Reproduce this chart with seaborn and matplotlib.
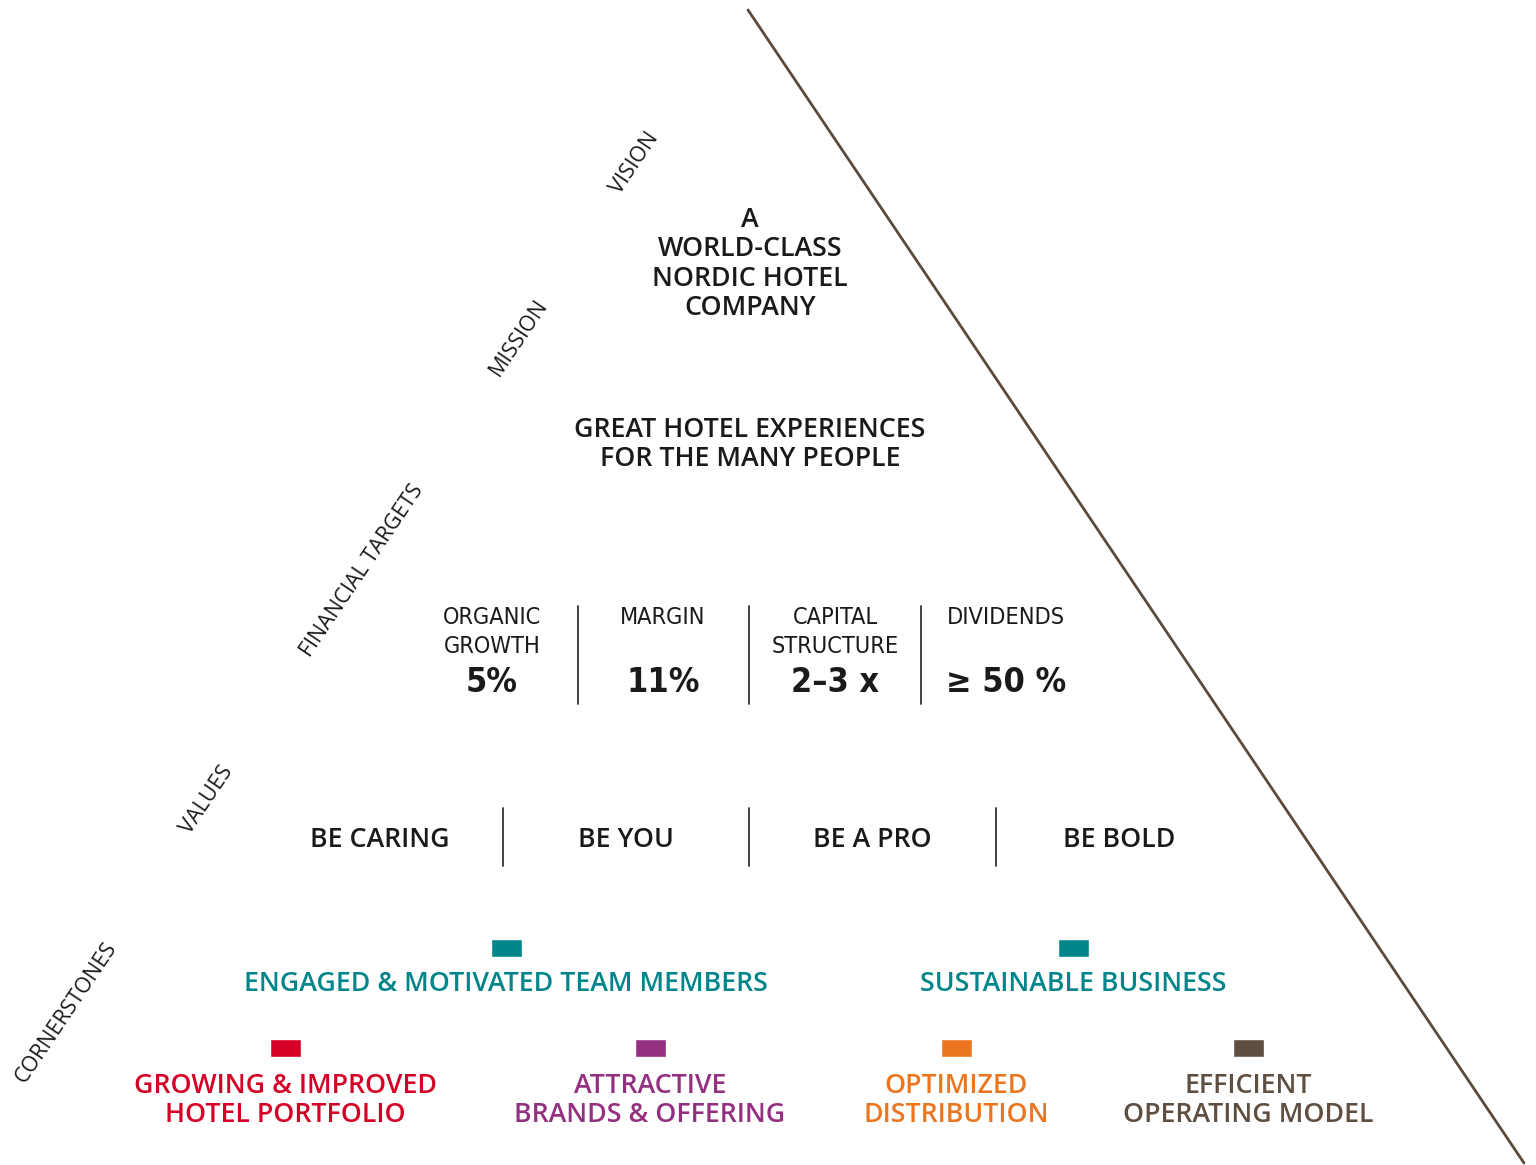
import matplotlib
matplotlib.use("Agg")
import matplotlib.pyplot as plt
import seaborn as sns
import pandas as pd

# ---- data ----
section_labels = ["VISION", "MISSION", "FINANCIAL TARGETS", "VALUES", "CORNERSTONES"]
vision_lines = ["A", "WORLD-CLASS", "NORDIC HOTEL", "COMPANY"]
mission_lines = ["GREAT HOTEL EXPERIENCES", "FOR THE MANY PEOPLE"]
fin_names = ["ORGANIC\nGROWTH", "MARGIN", "CAPITAL\nSTRUCTURE", "DIVIDENDS"]
fin_values = ["5%", "11%", "2\u20133 x", "\u2265 50 %"]
values_list = ["BE CARING", "BE YOU", "BE A PRO", "BE BOLD"]
corner_top = ["ENGAGED & MOTIVATED TEAM MEMBERS", "SUSTAINABLE BUSINESS"]
corner_top_colors = ["#00858a", "#00858a"]
corner_bottom = ["GROWING & IMPROVED\nHOTEL PORTFOLIO", "ATTRACTIVE\nBRANDS & OFFERING",
                 "OPTIMIZED\nDISTRIBUTION", "EFFICIENT\nOPERATING MODEL"]
corner_bottom_colors = ["#d50025", "#93307f", "#ec7520", "#5e4f41"]

sns.set_theme(style="white")
plt.rcParams["font.family"] = ["Open Sans", "DejaVu Sans"]

W, H = 1536, 1165
fig = plt.figure(figsize=(W / 100, H / 100), dpi=100)
ax = fig.add_axes([0, 0, 1, 1])

dark = "#1a1a1a"
FAM = ["Open Sans", "DejaVu Sans"]
FS = 19.3
main_font = dict(family=FAM, fontweight=600, color=dark)
narrow = dict(family=["DejaVu Sans"], fontstretch="condensed", color=dark)

# diagonal
line_df = pd.DataFrame({"x": [748, 1524], "y": [10, 1163]})
sns.lineplot(data=line_df, x="x", y="y", ax=ax, color="#5a4a3c", lw=2)
ax.set_xlim(0, W)
ax.set_ylim(H, 0)
ax.axis("off")

# rotated section labels
label_pos = [(635, 163), (519, 338), (362, 571), (207, 800), (66, 1012)]
for lab, (x, y) in zip(section_labels, label_pos):
    ax.text(x, y, lab, rotation=56, ha="center", va="center", fontsize=15.5,
            family=FAM, fontweight=500, color=dark, rotation_mode="anchor")

# vision
for i, ln in enumerate(vision_lines):
    ax.text(750, 220 + i * 29.4, ln, ha="center", va="center", fontsize=FS, **main_font)

# mission
for i, ln in enumerate(mission_lines):
    ax.text(750, 430 + i * 29, ln, ha="center", va="center", fontsize=FS, **main_font)

# financial targets
fin_x = [492, 663, 835, 1006]
for x, name, val in zip(fin_x, fin_names, fin_values):
    ax.text(x, 606, name, ha="center", va="top", fontsize=16.8, linespacing=1.32,
            fontweight=500, **narrow)
    ax.text(x, 683, val, ha="center", va="center", fontsize=24.5, fontweight="bold", **narrow)
for i in range(len(fin_x) - 1):
    xd = (fin_x[i] + fin_x[i + 1]) / 2
    ax.plot([xd, xd], [606, 704], color="#333333", lw=1.3)

# values
val_x = [380, 626, 872, 1119]
for x, v in zip(val_x, values_list):
    ax.text(x, 840, v, ha="center", va="center", fontsize=FS, **main_font)
for i in range(len(val_x) - 1):
    xd = (val_x[i] + val_x[i + 1]) / 2
    ax.plot([xd, xd], [808, 866], color="#333333", lw=1.3)

# cornerstones top
top_x = [506, 1073]
ax.bar(top_x, [18] * 2, width=31, bottom=[939] * 2, color=corner_top_colors)
for x, t, c in zip(top_x, corner_top, corner_top_colors):
    ax.text(x, 984, t, ha="center", va="center", fontsize=FS,
            family=FAM, fontweight=600, color=c)

# cornerstones bottom
bot_x = [285, 650, 956, 1248]
ax.bar(bot_x, [18] * 4, width=31, bottom=[1039] * 4, color=corner_bottom_colors)
for x, t, c in zip(bot_x, corner_bottom, corner_bottom_colors):
    ax.text(x, 1100.5, t, ha="center", va="center", fontsize=FS, linespacing=1.03,
            family=FAM, fontweight=600, color=c)

fig.savefig("out.png", dpi=100, facecolor="white")
